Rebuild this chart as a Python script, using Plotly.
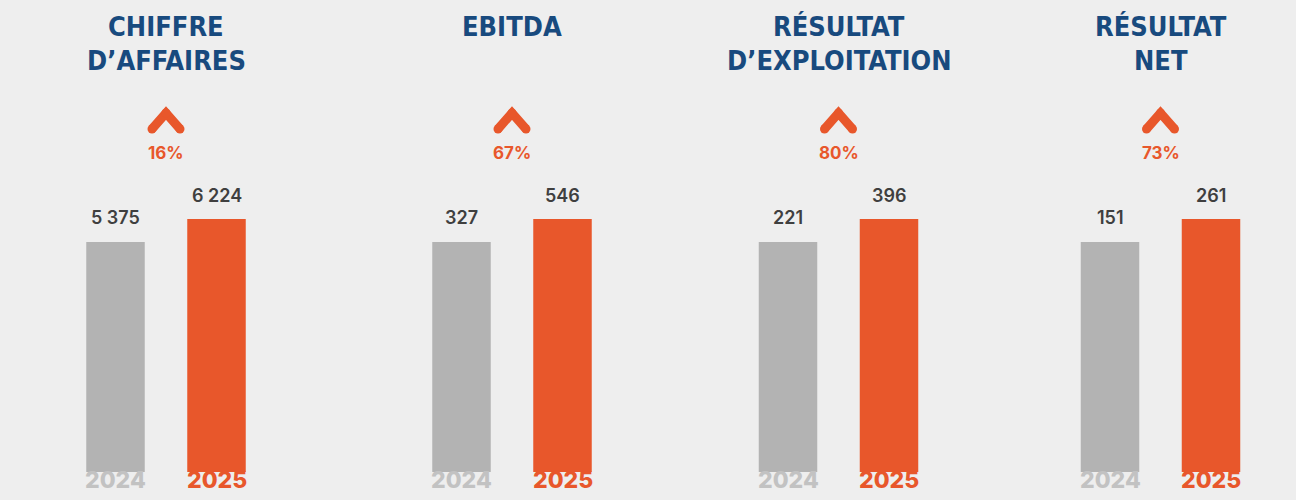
import plotly.graph_objects as go

# ---- data ----
metrics = [["CHIFFRE", "D\u2019AFFAIRES"], ["EBITDA"], ["R\u00c9SULTAT", "D\u2019EXPLOITATION"], ["R\u00c9SULTAT", "NET"]]
years = ["2024", "2025"]
values_2024 = [5375, 327, 221, 151]
values_2025 = [6224, 546, 396, 261]
labels_2024 = ["5 375", "327", "221", "151"]
labels_2025 = ["6 224", "546", "396", "261"]
growth_pct = ["16%", "67%", "80%", "73%"]
# stylised (non-proportional) bar heights used by the infographic
display_height = {"2024": 230, "2025": 253}

# ---- layout constants ----
W, H = 1296, 500
panel_centers = [166, 512, 838.5, 1160.5]
offset = 50.5
bar_w = 58.5
BG = "#EEEEEE"
GREY = "#B3B3B3"
ORANGE = "#E8572B"
BLUE = "#184A7E"
YEAR_GREY = "#C2C2C2"

fig = go.Figure()

xs_2024 = [c - offset for c in panel_centers]
xs_2025 = [c + offset for c in panel_centers]

fig.add_trace(go.Bar(x=xs_2024, y=[display_height["2024"]] * len(values_2024), width=bar_w,
                     marker=dict(color=GREY, line=dict(width=0)), hoverinfo="skip",
                     customdata=values_2024))
fig.add_trace(go.Bar(x=xs_2025, y=[display_height["2025"]] * len(values_2025), width=bar_w,
                     marker=dict(color=ORANGE, line=dict(width=0)), hoverinfo="skip",
                     customdata=values_2025))

title_font = dict(family="DejaVu Sans Condensed, Liberation Sans Narrow, Arial Narrow, sans-serif",
                  size=27, color=BLUE, weight=700)
val_font = dict(family="Inter, Lato, sans-serif", size=18, color="#3F3F3F", weight=600)
pct_font = dict(family="Inter, Lato, sans-serif", size=17, color=ORANGE, weight=700)

ann = []
for i, c in enumerate(panel_centers):
    # titles
    for j, line in enumerate(metrics[i]):
        ann.append(dict(x=c, y=446 - 34 * j, text=line, showarrow=False, font=title_font,
                        xanchor="center", yanchor="middle"))
    # growth chevron
    fig.add_trace(go.Scatter(x=[c - 14, c, c + 14], y=[343, 359, 343], mode="lines+markers",
                             line=dict(color=ORANGE, width=9), marker=dict(color=ORANGE, size=9),
                             hoverinfo="skip", showlegend=False))
    ann.append(dict(x=c, y=319, text=growth_pct[i], showarrow=False, font=pct_font,
                    xanchor="center", yanchor="middle"))
    # value labels
    ann.append(dict(x=xs_2024[i], y=display_height["2024"] + 25, text=labels_2024[i], showarrow=False,
                    font=val_font, xanchor="center", yanchor="middle"))
    ann.append(dict(x=xs_2025[i], y=display_height["2025"] + 24, text=labels_2025[i], showarrow=False,
                    font=val_font, xanchor="center", yanchor="middle"))
    # year labels
    ann.append(dict(x=xs_2024[i], y=-8, text=years[0], showarrow=False,
                    font=dict(family="Inter, Lato, sans-serif", size=23, color=YEAR_GREY, weight=800),
                    xanchor="center", yanchor="middle"))
    ann.append(dict(x=xs_2025[i], y=-8, text=years[1], showarrow=False,
                    font=dict(family="Inter, Lato, sans-serif", size=23, color=ORANGE, weight=800),
                    xanchor="center", yanchor="middle"))

fig.update_layout(
    width=W, height=H,
    margin=dict(l=0, r=0, t=0, b=0),
    paper_bgcolor=BG, plot_bgcolor=BG,
    showlegend=False, barmode="overlay",
    annotations=ann,
    xaxis=dict(range=[0, W], visible=False, fixedrange=True),
    yaxis=dict(range=[-28, 472], visible=False, fixedrange=True),
)

fig.write_html("out.html", include_plotlyjs=True, config={"displayModeBar": False},
               post_script="document.body.style.margin='0';document.body.style.padding='0';"
                           "document.body.style.background='#EEEEEE';document.body.style.overflow='hidden';")
